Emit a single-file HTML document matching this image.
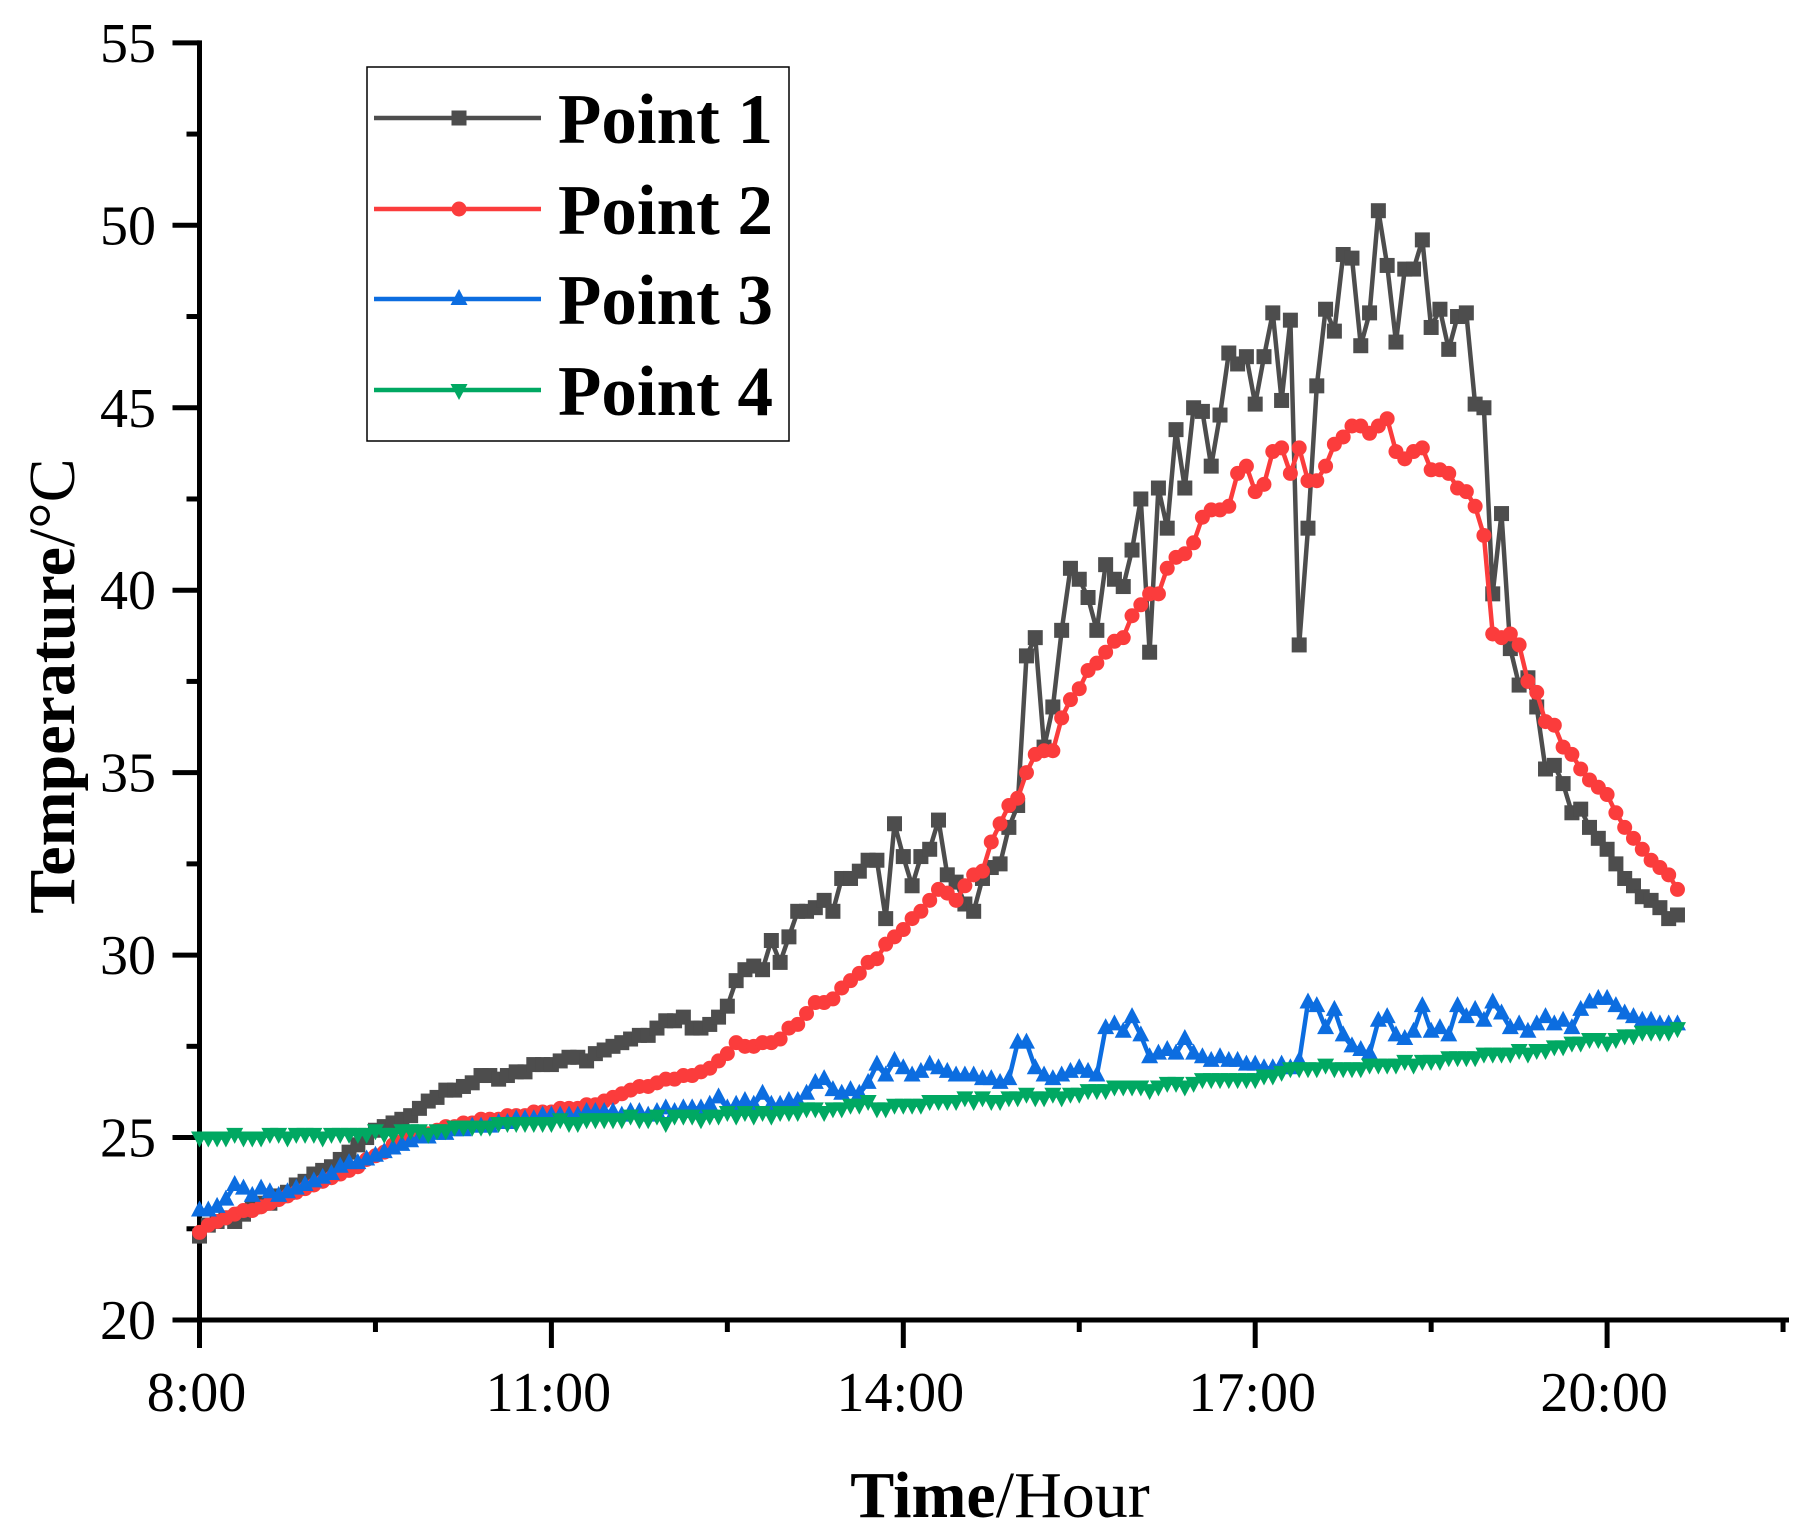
<!DOCTYPE html>
<html><head><meta charset="utf-8"><style>
html,body{margin:0;padding:0;background:#fff;}
svg{display:block;}
text{font-family:"Liberation Serif",serif;fill:#000;}
</style></head><body>
<svg id="chart" width="1820" height="1536" viewBox="0 0 1820 1536" xmlns="http://www.w3.org/2000/svg">
<g id="axes"></g>
<g id="series"></g>
<g id="legend"></g>
</svg>
<script>
const xTickLabels = ["8:00","11:00","14:00","17:00","20:00"];
const xTickHours = [8,11,14,17,20];
const yTickValues = [20,25,30,35,40,45,50,55];
const seriesNames = ["Point 1","Point 2","Point 3","Point 4"];
const startHour = 8;
const stepHours = 0.075;
const point1 = [22.3,22.6,22.7,22.8,22.7,22.9,23.1,23.2,23.2,23.4,23.5,23.7,23.8,24.0,24.1,24.2,24.4,24.6,24.8,25.0,25.2,25.3,25.4,25.5,25.6,25.8,26.0,26.1,26.3,26.3,26.4,26.5,26.7,26.7,26.6,26.7,26.8,26.8,27.0,27.0,27.0,27.1,27.2,27.2,27.1,27.3,27.4,27.5,27.6,27.7,27.8,27.8,28.0,28.2,28.2,28.3,28.0,28.0,28.1,28.3,28.6,29.3,29.6,29.7,29.6,30.4,29.8,30.5,31.2,31.2,31.3,31.5,31.2,32.1,32.1,32.3,32.6,32.6,31.0,33.6,32.7,31.9,32.7,32.9,33.7,32.2,32.0,31.4,31.2,32.1,32.4,32.5,33.5,34.1,38.2,38.7,35.7,36.8,38.9,40.6,40.3,39.8,38.9,40.7,40.3,40.1,41.1,42.5,38.3,42.8,41.7,44.4,42.8,45.0,44.9,43.4,44.8,46.5,46.2,46.4,45.1,46.4,47.6,45.2,47.4,38.5,41.7,45.6,47.7,47.1,49.2,49.1,46.7,47.6,50.4,48.9,46.8,48.8,48.8,49.6,47.2,47.7,46.6,47.5,47.6,45.1,45.0,39.9,42.1,38.4,37.4,37.6,36.8,35.1,35.2,34.7,33.9,34.0,33.5,33.2,32.9,32.5,32.1,31.9,31.6,31.5,31.3,31.0,31.1];
const point2 = [22.4,22.6,22.7,22.8,22.9,23.0,23.0,23.1,23.2,23.3,23.4,23.5,23.6,23.7,23.8,23.9,24.0,24.1,24.2,24.4,24.5,24.6,24.8,24.9,25.0,25.1,25.1,25.2,25.3,25.3,25.4,25.4,25.5,25.5,25.5,25.6,25.6,25.6,25.7,25.7,25.7,25.8,25.8,25.8,25.9,25.9,26.0,26.1,26.2,26.3,26.4,26.4,26.5,26.6,26.6,26.7,26.7,26.8,26.9,27.1,27.3,27.6,27.5,27.5,27.6,27.6,27.7,28.0,28.1,28.4,28.7,28.7,28.8,29.1,29.3,29.5,29.8,29.9,30.3,30.5,30.7,31.0,31.2,31.5,31.8,31.7,31.5,31.9,32.2,32.3,33.1,33.6,34.1,34.3,35.0,35.5,35.6,35.6,36.5,37.0,37.3,37.8,38.0,38.3,38.6,38.7,39.3,39.6,39.9,39.9,40.6,40.9,41.0,41.3,42.0,42.2,42.2,42.3,43.2,43.4,42.7,42.9,43.8,43.9,43.2,43.9,43.0,43.0,43.4,44.0,44.2,44.5,44.5,44.3,44.5,44.7,43.8,43.6,43.8,43.9,43.3,43.3,43.2,42.8,42.7,42.3,41.5,38.8,38.7,38.8,38.5,37.5,37.2,36.4,36.3,35.7,35.5,35.1,34.8,34.6,34.4,33.9,33.5,33.2,32.9,32.6,32.4,32.2,31.8];
const point3 = [23.0,23.0,23.1,23.3,23.7,23.6,23.4,23.6,23.5,23.4,23.5,23.6,23.7,23.8,23.9,24.0,24.2,24.3,24.3,24.4,24.5,24.6,24.7,24.8,24.9,25.0,25.0,25.1,25.1,25.2,25.2,25.3,25.3,25.3,25.4,25.4,25.5,25.5,25.5,25.6,25.6,25.6,25.6,25.6,25.7,25.7,25.7,25.7,25.6,25.7,25.7,25.6,25.7,25.8,25.7,25.8,25.8,25.8,25.9,26.1,25.8,25.9,26.0,25.9,26.2,25.9,25.9,26.0,26.0,26.2,26.5,26.6,26.3,26.2,26.3,26.2,26.5,27.0,26.7,27.1,26.9,26.7,26.8,27.0,26.9,26.8,26.7,26.7,26.7,26.6,26.6,26.5,26.6,27.6,27.6,26.9,26.7,26.6,26.7,26.8,26.9,26.8,26.7,28.0,28.1,27.9,28.3,27.8,27.2,27.3,27.4,27.3,27.7,27.3,27.2,27.1,27.2,27.1,27.1,27.0,27.0,26.9,26.9,27.0,26.9,27.1,28.7,28.6,28.0,28.5,27.8,27.5,27.4,27.3,28.2,28.3,27.8,27.7,27.9,28.6,27.9,28.0,27.8,28.6,28.3,28.5,28.2,28.7,28.4,28.0,28.1,27.9,28.1,28.3,28.1,28.2,28.0,28.5,28.7,28.8,28.8,28.6,28.4,28.3,28.2,28.2,28.1,28.1,28.1];
const point4 = [25.0,25.0,25.0,25.0,25.1,25.0,25.0,25.0,25.1,25.1,25.0,25.1,25.1,25.1,25.0,25.1,25.1,25.1,25.1,25.1,25.2,25.1,25.1,25.2,25.2,25.2,25.1,25.2,25.2,25.3,25.3,25.3,25.3,25.3,25.4,25.4,25.4,25.4,25.4,25.4,25.4,25.5,25.4,25.4,25.5,25.5,25.5,25.5,25.5,25.6,25.5,25.5,25.6,25.4,25.6,25.6,25.6,25.5,25.6,25.6,25.7,25.6,25.7,25.6,25.7,25.6,25.7,25.7,25.7,25.8,25.8,25.7,25.8,25.8,25.9,25.9,26.0,25.8,25.8,25.9,25.9,25.9,25.9,26.0,26.0,26.0,26.0,26.1,26.0,26.1,26.0,26.0,26.1,26.1,26.2,26.1,26.1,26.2,26.1,26.2,26.2,26.3,26.3,26.3,26.4,26.4,26.4,26.4,26.3,26.4,26.5,26.5,26.4,26.5,26.6,26.6,26.6,26.6,26.6,26.6,26.6,26.7,26.7,26.8,26.9,26.9,26.9,26.9,27.0,26.9,26.9,26.9,26.9,27.0,27.0,27.0,27.0,27.1,27.0,27.1,27.1,27.1,27.2,27.2,27.2,27.2,27.3,27.3,27.3,27.3,27.4,27.3,27.4,27.4,27.5,27.5,27.6,27.6,27.7,27.7,27.6,27.7,27.8,27.8,27.9,27.9,27.9,27.9,28.0];

const NS = "http://www.w3.org/2000/svg";
const X0 = 199.5, PXH = 117.3, Y0 = 1320, PXV = 36.49;
function xS(h){ return X0 + (h - 8) * PXH; }
function yS(v){ return Y0 - (v - 20) * PXV; }
function mk(tag, attrs, parent){
  const e = document.createElementNS(NS, tag);
  for (const k in attrs) e.setAttribute(k, attrs[k]);
  parent.appendChild(e);
  return e;
}
const axes = document.getElementById('axes');
let e = mk('line', {x1:X0, y1:yS(55)-2.5, x2:X0, y2:Y0+28, stroke:'#000','stroke-width':5}, axes);


e = mk('line', {x1:X0-27, y1:Y0, x2:1789, y2:Y0, stroke:'#000','stroke-width':5}, axes);


yTickValues.forEach(v => {
  const y = yS(v);
  const t = mk('line', {x1:X0-27, y1:y, x2:X0, y2:y, stroke:'#000','stroke-width':5}, axes);
  
  
  const l = mk('text', {x:156, y:y+19, 'text-anchor':'end','font-size':56}, axes);
  l.textContent = String(v);
  
  
  if (v < 55) {
    const m = mk('line', {x1:X0-13, y1:yS(v+2.5), x2:X0, y2:yS(v+2.5), stroke:'#000','stroke-width':5}, axes);
    
    
  }
});
xTickHours.forEach((h, i) => {
  const x = xS(h);
  const t = mk('line', {x1:x, y1:Y0, x2:x, y2:Y0+28, stroke:'#000','stroke-width':5}, axes);
  
  
  const l = mk('text', {x:x-3, y:1411, 'text-anchor':'middle','font-size':56}, axes);
  l.textContent = xTickLabels[i];
  
  
  const m = mk('line', {x1:xS(h+1.5), y1:Y0, x2:xS(h+1.5), y2:Y0+12, stroke:'#000','stroke-width':5}, axes);
  
  
});
let tt = mk('text', {x:1000, y:1517, 'text-anchor':'middle','font-size':66}, axes);
tt.innerHTML = '<tspan font-weight="bold">Time</tspan>/Hour';


tt = mk('text', {x:0, y:0, 'text-anchor':'middle','font-size':66, transform:'translate(74,686) rotate(-90)'}, axes);
tt.innerHTML = '<tspan font-weight="bold">Temperature</tspan>/°C';



const colors = ['#4d4d4d','#fb3c3c','#0c6de0','#00a862'];
const shapes = ['square','circle','up','down'];
const allData = [point1, point2, point3, point4];
function marker(g, shape, x, y, c){
  let m;
  if (shape==='square') m = mk('rect', {x:x-7.5, y:y-7.5, width:15, height:15, fill:c}, g);
  else if (shape==='circle') m = mk('circle', {cx:x, cy:y, r:7.5, fill:c}, g);
  else if (shape==='up') m = mk('polygon', {points:`${x},${y-10} ${x-8.5},${y+6} ${x+8.5},${y+6}`, fill:c}, g);
  else m = mk('polygon', {points:`${x},${y+10} ${x-8.5},${y-6} ${x+8.5},${y-6}`, fill:c}, g);
  return m;
}
const layer = document.getElementById('series');
allData.forEach((arr, s) => {
  const g = mk('g', {}, layer);
  
  
  const pts = arr.map((v, i) => xS(startHour + i*stepHours).toFixed(1) + ',' + yS(v).toFixed(1)).join(' ');
  const pl = mk('polyline', {points:pts, fill:'none', stroke:colors[s], 'stroke-width':4.5, 'stroke-linejoin':'round'}, g);
  
  
  arr.forEach((v, i) => {
    const m = marker(g, shapes[s], xS(startHour + i*stepHours), yS(v), colors[s]);
    
    
  });
});
const lg = document.getElementById('legend');
const box = mk('rect', {x:367, y:67, width:422, height:374, fill:'#fff', stroke:'#000', 'stroke-width':1.5}, lg);


const rowsY = [118, 209, 299, 390];
seriesNames.forEach((n, s) => {
  const g = mk('g', {}, lg);
  
  
  const y = rowsY[s];
  mk('line', {x1:374, y1:y, x2:541, y2:y, stroke:colors[s], 'stroke-width':4.5}, g);
  marker(g, shapes[s], 459, y, colors[s]);
  const t = mk('text', {x:558, y:y+25, 'font-size':71, 'font-weight':'bold'}, g);
  t.textContent = n;
  
  
});
</script>
</body></html>
